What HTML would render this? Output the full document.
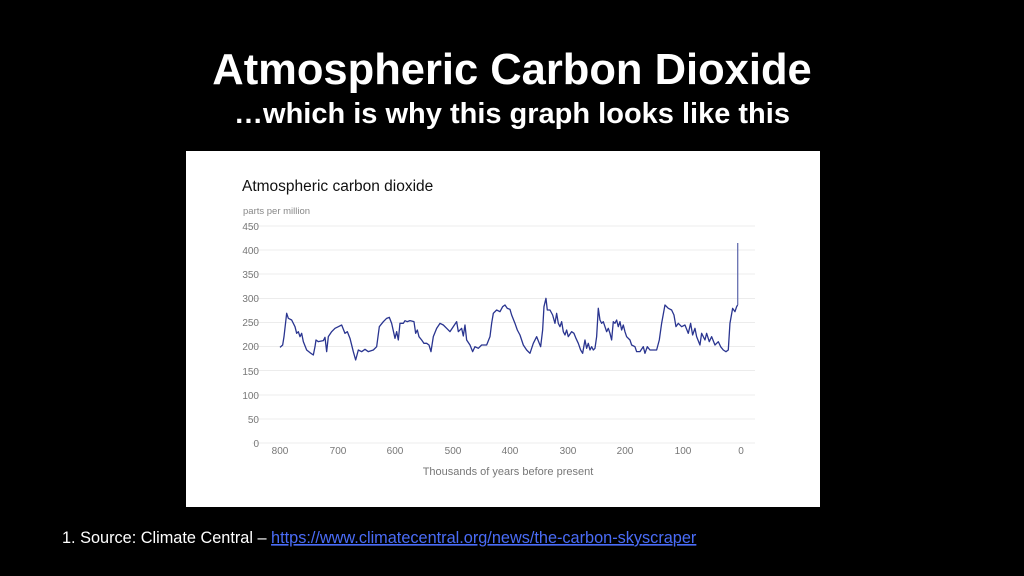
<!DOCTYPE html>
<html><head><style>
body{margin:0;width:1024px;height:576px;background:#000;overflow:hidden;font-family:"Liberation Sans",sans-serif;position:relative}
.t{position:absolute;left:0;width:1024px;text-align:center;color:#fff;font-weight:bold}
</style></head><body>
<div class="t" style="top:46px;font-size:43.5px;">Atmospheric Carbon Dioxide</div>
<div class="t" style="top:98px;font-size:29px;">…which is why this graph looks like this</div>
<svg style="position:absolute;left:0;top:0" width="1024" height="576">
<rect x="186" y="151" width="634" height="356" fill="#fff"/>
<text x="242" y="191" font-size="15.5" fill="#111">Atmospheric carbon dioxide</text>
<text x="243" y="214" font-size="9.5" fill="#888">parts per million</text>
<g stroke="#ececec" stroke-width="1">
<line x1="252" x2="755" y1="226" y2="226"/><line x1="252" x2="755" y1="250" y2="250"/>
<line x1="252" x2="755" y1="274" y2="274"/><line x1="252" x2="755" y1="298.5" y2="298.5"/>
<line x1="252" x2="755" y1="322.5" y2="322.5"/><line x1="252" x2="755" y1="346.5" y2="346.5"/>
<line x1="252" x2="755" y1="370.5" y2="370.5"/><line x1="252" x2="755" y1="395" y2="395"/>
<line x1="252" x2="755" y1="419" y2="419"/><line x1="252" x2="755" y1="443" y2="443"/>
</g>
<g font-size="10" fill="#777" text-anchor="end">
<text x="259" y="230">450</text><text x="259" y="254">400</text><text x="259" y="278">350</text>
<text x="259" y="302">300</text><text x="259" y="326">250</text><text x="259" y="350">200</text>
<text x="259" y="375">150</text><text x="259" y="399">100</text><text x="259" y="423">50</text><text x="259" y="447">0</text>
</g>
<g font-size="10" fill="#777" text-anchor="middle">
<text x="280" y="454">800</text><text x="338" y="454">700</text><text x="395" y="454">600</text>
<text x="453" y="454">500</text><text x="510" y="454">400</text><text x="568" y="454">300</text>
<text x="625" y="454">200</text><text x="683" y="454">100</text><text x="741" y="454">0</text>
</g>
<text x="508" y="475" font-size="11" fill="#777" text-anchor="middle">Thousands of years before present</text>
<g transform="translate(270,290) scale(0.3333)">
<polyline fill="none" stroke="#2a3590" stroke-width="1.3" vector-effect="non-scaling-stroke" stroke-linejoin="round" points="30,172 38,165 42,140 50,70 55,85 65,90 75,110 80,130 85,125 90,140 95,130 100,155 110,180 120,188 130,195 135,170 138,150 145,155 160,152 165,142 170,185 175,140 185,125 195,115 205,110 215,105 225,130 232,125 240,145 250,185 257,210 265,180 275,185 285,178 295,185 310,180 320,170 328,110 340,95 350,85 358,82 365,100 375,145 380,125 385,150 390,100 400,100 405,92 412,95 420,92 432,95 437,130 442,120 447,140 455,150 462,160 470,160 477,165 483,185 490,140 500,115 510,100 520,105 530,115 540,125 550,110 560,95 565,125 575,115 580,138 585,105 590,150 600,165 608,185 615,170 625,175 635,165 650,165 660,140 665,100 670,70 680,60 690,65 698,50 705,45 712,55 720,58 725,75 735,100 742,120 750,135 760,165 770,180 780,190 790,160 800,140 808,160 812,170 818,120 822,50 828,25 832,60 840,60 848,75 855,100 860,70 865,100 870,110 875,95 880,125 885,135 890,120 895,140 905,125 912,130 918,145 925,160 932,180 938,190 945,150 950,175 955,160 960,180 965,170 970,180 975,175 980,140 985,55 990,90 995,100 1000,95 1005,110 1010,125 1015,115 1020,130 1025,150 1030,95 1035,100 1040,90 1045,110 1050,95 1055,120 1060,105 1065,125 1070,140 1080,150 1085,165 1095,170 1100,185 1110,185 1120,170 1125,190 1132,170 1140,180 1150,180 1160,180 1168,150 1175,100 1185,45 1195,55 1205,60 1212,75 1218,110 1225,100 1235,110 1245,105 1255,130 1262,100 1268,135 1275,115 1280,140 1290,165 1295,130 1305,150 1310,130 1318,155 1325,140 1335,165 1345,155 1352,170 1360,180 1368,185 1375,180 1380,100 1388,55 1395,65 1400,50 1403,45"/>
</g>
<line x1="737.7" y1="305" x2="737.7" y2="243" stroke="#6670b0" stroke-width="1.3"/>
<text x="62" y="543" font-size="16.3" fill="#fff">1. Source: Climate Central – <tspan fill="#4a6cf7" text-decoration="underline">https://www.climatecentral.org/news/the-carbon-skyscraper</tspan></text>
</svg>
</body></html>
